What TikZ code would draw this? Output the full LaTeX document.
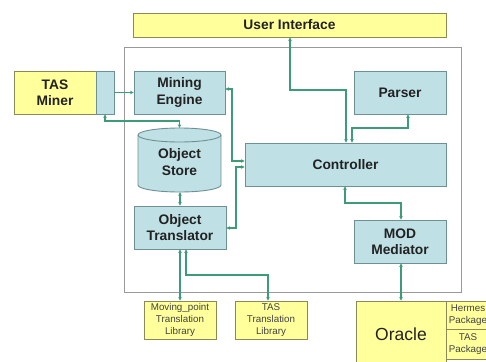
\documentclass[tikz,border=0pt]{standalone}
\usepackage{fontspec}
\setmainfont{Liberation Sans}
\usetikzlibrary{arrows.meta}
\definecolor{cyanfill}{HTML}{BFE1E5}
\definecolor{cyanline}{HTML}{6F8F96}
\definecolor{yelfill}{HTML}{FFFF9C}
\definecolor{yelline}{HTML}{8A8A55}
\definecolor{linkcol}{HTML}{3C9C78}
\definecolor{txt}{HTML}{222222}
\tikzset{
  cybox/.style={draw=cyanline, fill=cyanfill, line width=0.9pt, inner sep=0pt, align=center,
     text=txt, font=\fontsize{13.8pt}{16.5pt}\selectfont\bfseries},
  yebox/.style={draw=yelline, fill=yelfill, line width=0.9pt, inner sep=0pt, align=center,
     text=txt, font=\fontsize{13.8pt}{16.5pt}\selectfont\bfseries},
  libbox/.style={draw=yelline, fill=yelfill, line width=0.8pt, inner sep=0pt, align=center,
     text=txt!85, font=\fontsize{9.8pt}{11.8pt}\selectfont, minimum width=72pt, minimum height=38pt},
  link/.style={draw=linkcol, line width=1.3pt,
     {Stealth[length=3.5pt,width=3.5pt]}-{Stealth[length=3.5pt,width=3.5pt]}},
  linkone/.style={draw=linkcol, line width=1.3pt, -{Stealth[length=3.5pt,width=3.5pt]}},
}
\begin{document}
\begin{tikzpicture}[x=1pt,y=-1pt]
\useasboundingbox (0,0) rectangle (486,361);
\clip (0,0) rectangle (486,361);
\fill[white] (0,0) rectangle (486,361);
% main container
\node[draw=black!40, fill=white, line width=1pt, minimum width=337pt, minimum height=245pt, inner sep=0pt] (main) at (292.5,169.5) {};
% user interface
\node[yebox, minimum width=313pt, minimum height=24pt] (ui) at (289.5,25) {User Interface};
% TAS Miner
\node[yebox, minimum width=82pt, minimum height=43pt] (miner) at (55,92.5) {TAS\\Miner};
\node[cybox, minimum width=18pt, minimum height=43pt] (minercy) at (105,92.5) {};
% inner boxes
\node[cybox, minimum width=91pt, minimum height=43pt] (me) at (179.5,92.5) {Mining\\Engine};
\node[cybox, minimum width=92pt, minimum height=43pt] (parser) at (400,92.5) {Parser};
\node[cybox, minimum width=201pt, minimum height=43pt] (ctrl) at (345.5,164.5) {Controller};
\node[cybox, minimum width=92pt, minimum height=43pt] (ot) at (180,227.5) {Object\\Translator};
\node[cybox, minimum width=92pt, minimum height=43pt] (mod) at (400,241.5) {MOD\\Mediator};
% object store cylinder
\filldraw[draw=cyanline, fill=cyanfill, line width=0.9pt]
  (138,135) -- (138,185) arc[start angle=180, end angle=360, x radius=41.5pt, y radius=7pt]
  -- (221,135) arc[start angle=0, end angle=180, x radius=41.5pt, y radius=7pt] -- cycle;
\draw[draw=cyanline, line width=0.9pt] (138,135) arc[start angle=180, end angle=360, x radius=41.5pt, y radius=7pt];
\node[inner sep=0pt, minimum width=83pt, minimum height=64pt, align=center, text=txt,
  font=\fontsize{13.8pt}{16.5pt}\selectfont\bfseries] (store) at (179.5,160) {\\[-2pt]Object\\Store};
% libraries
\node[libbox] (mplib) at (180,320) {Moving\_point\\Translation\\Library};
\node[libbox] (taslib) at (271,320) {TAS\\Translation\\Library};
% oracle
\node[draw=yelline, fill=yelfill, line width=0.9pt, inner sep=0pt, minimum width=90pt, minimum height=66pt,
  text=txt, font=\fontsize{17.5pt}{20pt}\selectfont] (oracle) at (401,334) {Oracle};
\node[libbox, minimum width=44pt, minimum height=28pt] (hermes) at (468,315) {Hermes\\Package};
\node[libbox, minimum width=44pt, minimum height=30pt] (taspkg) at (468,344) {TAS\\Package};
% connectors
\draw[linkone] (minercy.east) -- (me.west);
\draw[link] (105,0 |- minercy.south) -- (105,121) -- (179.5,121) -- (store.north);
\draw[link] (290,0 |- ui.south) -- (290,90) -- (346,90) -- (346,0 |- ctrl.north);
\draw[link] (408,0 |- parser.south) -- (408,128) -- (352,128) -- (352,0 |- ctrl.north);
\draw[link] (me.east |- 0,89) -- (232,89) -- (232,161) -- (ctrl.west |- 0,161);
\draw[link] (ot.east |- 0,228) -- (236,228) -- (236,167) -- (ctrl.west |- 0,167);
\draw[link] (180,0 |- store.south) -- (180,0 |- ot.north);
\draw[link] (180,0 |- ot.south) -- (180,0 |- mplib.north);
\draw[link] (186,0 |- ot.south) -- (186,275) -- (268,275) -- (268,0 |- taslib.north);
\draw[link] (345,0 |- ctrl.south) -- (345,203) -- (401,203) -- (401,0 |- mod.north);
\draw[link] (401,0 |- mod.south) -- (401,0 |- oracle.north);
\end{tikzpicture}
\end{document}
